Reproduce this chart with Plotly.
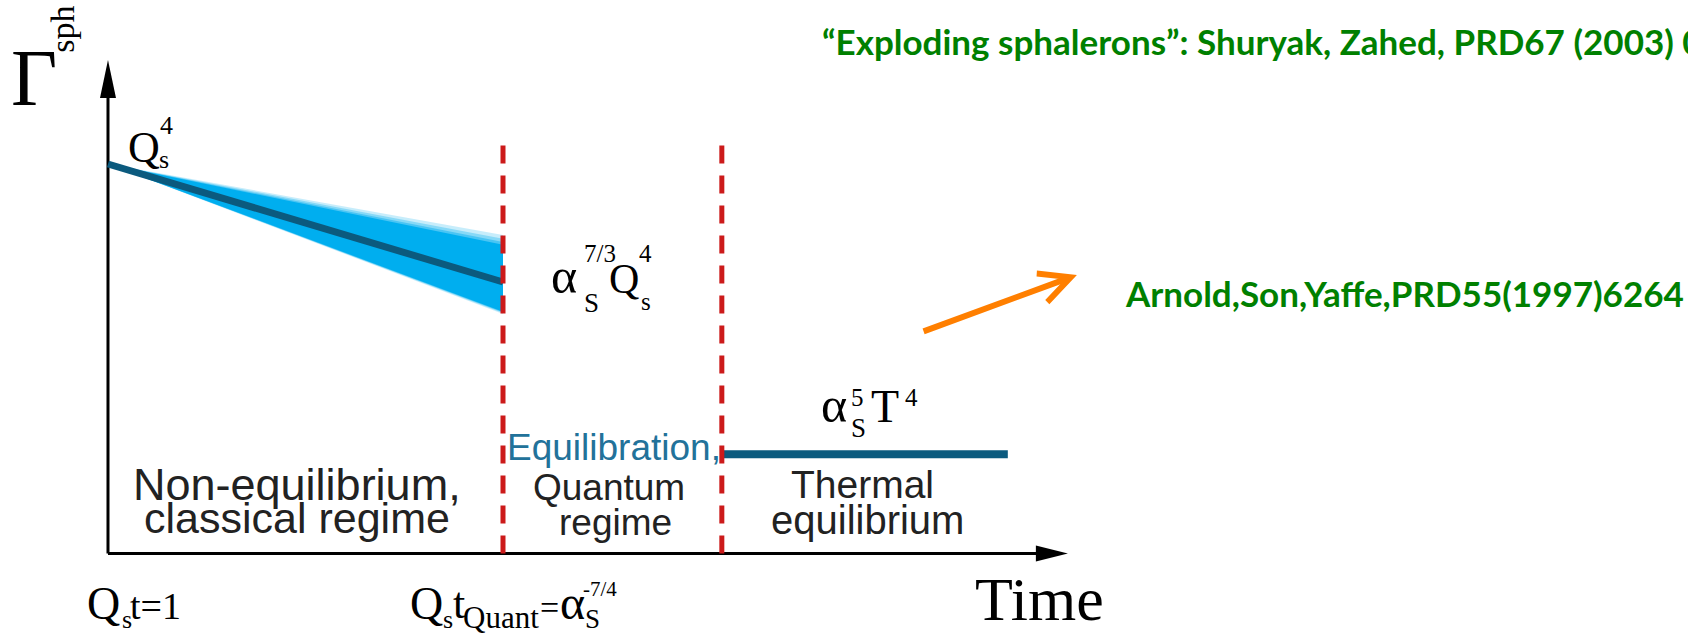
import plotly.graph_objects as go

# ---- data (time in units of t_Quant, rate in units of Q_s^4) ----
regime_bounds = [1.0, 1.554]          # t_Quant and onset of thermal equilibrium
classical_t = [0.0, 1.0]
classical_rate = [1.0, 0.697]         # central estimate of Gamma_sph
classical_upper = [1.0, 0.818]
classical_lower = [1.0, 0.615]
thermal_t = [1.554, 2.278]
thermal_rate = [0.255, 0.255]
axis_t_max = 2.43
axis_rate_max = 1.267
boundary_rate_max = 1.054

region_lines = [
    # (time, baseline rate, text, size, colour)
    (0.479, 0.137, "Non-equilibrium,", 45, "#222222"),
    (0.478, 0.052, "classical regime", 43, "#222222"),
    (1.280, 0.240, "Equilibration,", 37, "#22729A"),
    (1.268, 0.135, "Quantum", 37, "#222222"),
    (1.284, 0.046, "regime", 37, "#222222"),
    (1.910, 0.143, "Thermal", 39, "#222222"),
    (1.924, 0.049, "equilibrium", 40, "#222222"),
]

citation_top = "“Exploding sphalerons”: Shuryak, Zahed, PRD67 (2003) 0"
citation_thermal = "Arnold,Son,Yaffe,PRD55(1997)6264"

W, H = 1688, 634
SERIF = "Liberation Serif"
SANS = "Liberation Sans"
BAND = (0, 174, 239)
DARK = "#0B5A7E"
RED = "#CC1A1A"
GREEN = "#008000"

fig = go.Figure()

# uncertainty band of the classical regime, softened towards its edges
fade_top = [1.0, 0.92, 0.85, 0.79]
fade_bot = [1.0, 0.97, 0.95, 0.93]
alphas = [0.22, 0.32, 0.45, 1.0]
for ft, fb, a in zip(fade_top, fade_bot, alphas):
    up = [c + (u - c) * ft for c, u in zip(classical_rate, classical_upper)]
    lo = [c + (l - c) * fb for c, l in zip(classical_rate, classical_lower)]
    fig.add_trace(go.Scatter(
        x=classical_t + classical_t[::-1], y=up + lo[::-1],
        mode="lines", fill="toself",
        fillcolor=f"rgba({BAND[0]},{BAND[1]},{BAND[2]},{a})",
        line=dict(width=0), hoverinfo="skip", showlegend=False))

# central classical rate
fig.add_trace(go.Scatter(x=classical_t, y=classical_rate, mode="lines",
                         line=dict(color=DARK, width=7), showlegend=False))

# thermal plateau
fig.add_trace(go.Scatter(x=thermal_t, y=thermal_rate, mode="lines",
                         line=dict(color=DARK, width=8), showlegend=False))

# regime boundaries
for tb in regime_bounds:
    fig.add_trace(go.Scatter(x=[tb, tb], y=[0, boundary_rate_max], mode="lines",
                             line=dict(color=RED, width=5, dash="18px,12px"),
                             showlegend=False))

shapes = [
    dict(type="line", xref="x", yref="y", x0=0, y0=0, x1=0, y1=axis_rate_max - 0.05,
         line=dict(color="black", width=3), layer="below"),
    dict(type="line", xref="x", yref="y", x0=0, y0=0, x1=axis_t_max - 0.05, y1=0,
         line=dict(color="black", width=3), layer="below"),
    dict(type="path", xref="x", yref="y", xsizemode="pixel", ysizemode="pixel",
         xanchor=0, yanchor=axis_rate_max, path="M0,0 L-8,-38 L8,-38 Z",
         fillcolor="black", line=dict(width=0)),
    dict(type="path", xref="x", yref="y", xsizemode="pixel", ysizemode="pixel",
         xanchor=axis_t_max, yanchor=0, path="M0,0 L-32,8 L-32,-8 Z",
         fillcolor="black", line=dict(width=0)),
]


def text(t, rate, s, size, family=SERIF, color="black", anchor="left", ratio=0.34, **kw):
    fig.add_annotation(x=t, y=rate, xref="x", yref="y", text=s, showarrow=False,
                       font=dict(family=family, size=size, color=color),
                       xanchor=anchor, yanchor="middle", yshift=ratio * size,
                       borderpad=0, **kw)


# axis title Gamma_sph
text(-0.188, 1.150, "Γ", 80, anchor="center")
fig.add_annotation(x=-0.116, y=1.345, xref="x", yref="y", text="sph", showarrow=False,
                   font=dict(family=SERIF, size=34, color="black"), textangle=-90,
                   xanchor="center", yanchor="middle", borderpad=0)

# Q_s^4 at the start
text(0.048, 1.005, "Q", 44)
text(0.127, 0.990, "s", 26)
text(0.129, 1.076, "4", 26)

# alpha_S^{7/3} Q_s^4
text(1.119, 0.669, "α", 50)
text(1.203, 0.748, "7/3", 25)
text(1.203, 0.620, "S", 27)
text(1.266, 0.669, "Q", 42)
text(1.342, 0.748, "4", 25)
text(1.348, 0.625, "s", 25)

# alpha_S^5 T^4
text(1.803, 0.338, "α", 50)
text(1.878, 0.379, "5", 25)
text(1.878, 0.299, "S", 27)
text(1.929, 0.338, "T", 46)
text(2.015, 0.379, "4", 25)

# time labels
text(-0.0557, -0.168, "Q", 46)
text(0.032, -0.191, "s", 26)
text(0.052, -0.168, "t=1", 38)

text(0.762, -0.168, "Q", 46)
text(0.846, -0.191, "s", 26)
text(0.870, -0.168, "t", 44)
text(0.896, -0.191, "Quant", 31)
text(1.091, -0.168, "=", 34)
text(1.142, -0.168, "α", 48)
text(1.200, -0.109, "-7/4", 21)
text(1.204, -0.191, "S", 27)

text(2.192, -0.170, "Time", 62)

# regime descriptions
for t, r, s, size, col in region_lines:
    text(t, r, s, size, family=SANS, color=col, anchor="center", ratio=0.35)

# citations
text(1.805, 1.282, f"<b>{citation_top}</b>", 35, family="Lato", color=GREEN, ratio=0.39)
text(2.572, 0.633, f"<b>{citation_thermal}</b>", 35, family="Lato", color=GREEN, ratio=0.39)

fig.add_annotation(x=2.453, y=0.715, ax=2.061, ay=0.569, xref="x", yref="y",
                   axref="x", ayref="y", text="", showarrow=True, arrowhead=5,
                   arrowsize=1, arrowwidth=6, arrowcolor="#FF7F00")

fig.update_layout(
    width=W, height=H, autosize=False,
    margin=dict(l=0, r=0, t=0, b=0),
    paper_bgcolor="white", plot_bgcolor="white",
    xaxis=dict(range=[-0.2734, 4.0], visible=False, fixedrange=True),
    yaxis=dict(range=[-0.2067, 1.4211], visible=False, fixedrange=True),
    shapes=shapes, showlegend=False,
)

fig.write_html("out.html")
